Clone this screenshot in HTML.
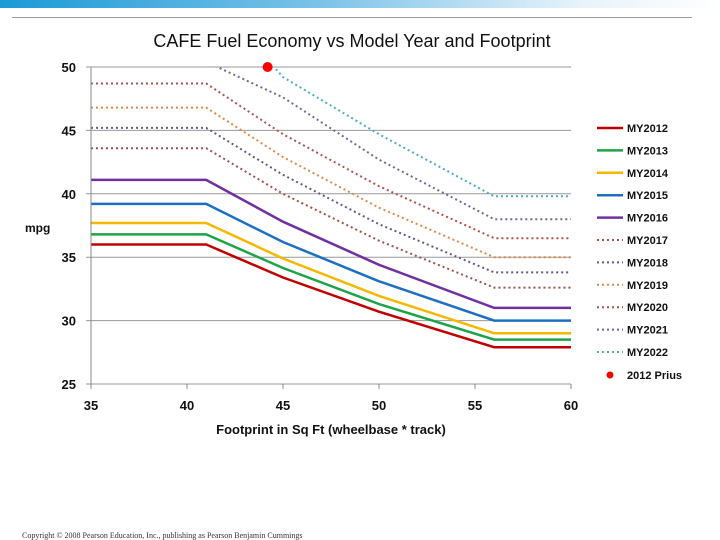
<!DOCTYPE html>
<html><head><meta charset="utf-8"><style>
html,body{margin:0;padding:0;background:#fff;}
body{width:720px;height:540px;overflow:hidden;position:relative;font-family:"Liberation Sans",sans-serif;}
</style></head><body>
<div style="position:absolute;left:0;top:0;width:720px;height:8px;background:linear-gradient(90deg,#1a9ad6 0%,#7cc3e8 45%,#e6f2fa 80%,#fff 100%);"></div>
<div style="position:absolute;left:12px;top:17px;width:680px;height:1px;background:#999;"></div>
<svg id="chart" width="720" height="540" style="position:absolute;left:0;top:0;" xmlns="http://www.w3.org/2000/svg">
<text x="352" y="47" text-anchor="middle" font-size="18" font-family="Liberation Sans, sans-serif" fill="#111">CAFE Fuel Economy vs Model Year and Footprint</text>
<text x="25" y="232" font-size="12" font-weight="bold" fill="#111">mpg</text>
<text x="331" y="434" text-anchor="middle" font-size="13" font-weight="bold" fill="#111">Footprint in Sq Ft (wheelbase * track)</text>
<text x="22" y="538" font-size="8" font-family="Liberation Serif, serif" fill="#333">Copyright © 2008 Pearson Education, Inc., publishing as Pearson Benjamin Cummings</text>
<defs><clipPath id="plotclip"><rect x="91" y="67" width="480" height="317"/></clipPath></defs>
<g id="grid"></g><g id="series" clip-path="url(#plotclip)"></g><g id="axes"></g><g id="legend"></g>
</svg>
<script>
const footprints=[35,41,45,50,56,60];
const seriesNames=["MY2012","MY2013","MY2014","MY2015","MY2016","MY2017","MY2018","MY2019","MY2020","MY2021","MY2022"];
const my2012=[36.0,36.0,33.4,30.7,27.9,27.9];
const my2013=[36.8,36.8,34.15,31.3,28.5,28.5];
const my2014=[37.7,37.7,34.9,31.95,29.0,29.0];
const my2015=[39.2,39.2,36.2,33.1,30.0,30.0];
const my2016=[41.1,41.1,37.8,34.4,31.0,31.0];
const my2017=[43.6,43.6,40.0,36.3,32.6,32.6];
const my2018=[45.2,45.2,41.5,37.6,33.8,33.8];
const my2019=[46.8,46.8,42.9,38.9,35.0,35.0];
const my2020=[48.7,48.7,44.7,40.6,36.5,36.5];
const my2021=[50.4,50.4,47.6,42.7,38.0,38.0];
const my2022=[56.0,56.0,49.2,44.7,39.8,39.8];
const priusPoint=[44.2,50.0];
const yTicks=[25,30,35,40,45,50];
const xTicks=[35,40,45,50,55,60];
const allSeries=[my2012,my2013,my2014,my2015,my2016,my2017,my2018,my2019,my2020,my2021,my2022];
const colors=["#c00000","#1fa34a","#f5b800","#1f6fc0","#7030a0","#a0504d","#5f5a8c","#e0894a","#b05050","#6a6aa0","#4aacc6"];
const NS="http://www.w3.org/2000/svg";
const X=v=>91+(v-35)*(480/25);
const Y=v=>384-(v-25)*(317/25);
function mk(tag,attrs,parent){const e=document.createElementNS(NS,tag);for(const k in attrs)e.setAttribute(k,attrs[k]);parent.appendChild(e);return e;}
const grid=document.getElementById('grid'),ser=document.getElementById('series'),axes=document.getElementById('axes'),leg=document.getElementById('legend');
yTicks.forEach(t=>{
 const l=mk('line',{x1:86,x2:571,y1:Y(t),y2:Y(t),stroke:'#999','stroke-width':1},grid);
 
 
 const tx=mk('text',{x:76,y:Y(t)+5,'text-anchor':'end','font-size':13,'font-weight':'bold',fill:'#111'},axes);
 tx.textContent=t;
 
 
});
const ya=mk('line',{x1:91,x2:91,y1:67,y2:384,stroke:'#888'},axes);


xTicks.forEach(t=>{
 const l=mk('line',{x1:X(t),x2:X(t),y1:384,y2:389,stroke:'#888'},axes);
 
 
 const tx=mk('text',{x:X(t),y:410,'text-anchor':'middle','font-size':13,'font-weight':'bold',fill:'#111'},axes);
 tx.textContent=t;
 
 
});
allSeries.forEach((vals,i)=>{
 const d=vals.map((v,j)=>(j?'L':'M')+X(footprints[j]).toFixed(1)+','+Y(v).toFixed(1)).join(' ');
 const dotted=i>=5;
 const p=mk('path',{d:d,fill:'none',stroke:colors[i],'stroke-width':dotted?2:2.5,'stroke-dasharray':dotted?'2,3':'none'},ser);
 
 
 const ly=128+i*22.4;
 const ll=mk('line',{x1:597,x2:623,y1:ly,y2:ly,stroke:colors[i],'stroke-width':dotted?2:2.5,'stroke-dasharray':dotted?'2,3':'none'},leg);
 
 
 const lt=mk('text',{x:627,y:ly+4,'font-size':11,'font-weight':'bold',fill:'#111'},leg);
 lt.textContent=seriesNames[i];
 
 
});
const pr=mk('circle',{cx:X(priusPoint[0]),cy:Y(priusPoint[1]),r:5,fill:'#ff0000'},document.getElementById('chart'));


const pl=mk('circle',{cx:610,cy:375,r:3.5,fill:'#ff0000'},leg);


const pt=mk('text',{x:627,y:379,'font-size':11,'font-weight':'bold',fill:'#111'},leg);
pt.textContent='2012 Prius';


</script>
</body></html>
